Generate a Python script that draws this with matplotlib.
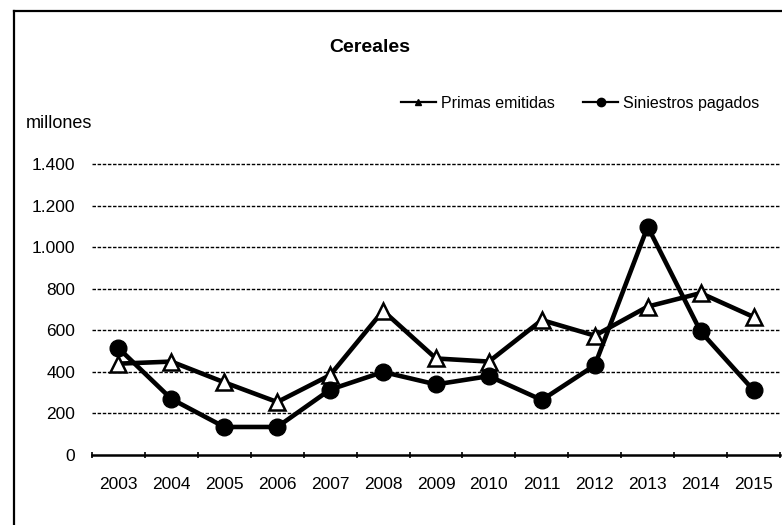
import matplotlib
matplotlib.use('Agg')
import matplotlib.pyplot as plt
from matplotlib.lines import Line2D
import numpy as np

# data
years = ['2003', '2004', '2005', '2006', '2007', '2008', '2009',
         '2010', '2011', '2012', '2013', '2014', '2015']
primas = [440, 450, 350, 255, 385, 695, 465, 450, 650, 575, 715, 780, 665]
siniestros = [515, 270, 135, 135, 315, 400, 340, 380, 265, 432, 1100, 595, 312]
y_ticks = [0, 200, 400, 600, 800, 1000, 1200, 1400]
y_labels = ['0', '200', '400', '600', '800', '1.000', '1.200', '1.400']

plt.rcParams['font.family'] = ['Liberation Sans', 'DejaVu Sans']

W, H = 782, 525
fig = plt.figure(figsize=(W / 100, H / 100), dpi=100)

# axes placed in pixel terms
left, right, bottom, top = 92, 780, 455, 154
ax = fig.add_axes([left / W, 1 - bottom / H, (right - left) / W, (bottom - top) / H])

x = np.arange(len(years))
ax.plot(x, primas, color='black', lw=3.3, marker='^', ms=11,
        mfc='white', mec='black', mew=1.8, zorder=3)
ax.plot(x, siniestros, color='black', lw=3.3, marker='o', ms=12,
        mfc='black', mec='black', zorder=4)

ax.set_xlim(-0.5, len(years) - 0.5)
ax.set_ylim(0, 1450)
ax.set_yticks(y_ticks)
ax.set_yticklabels(y_labels)
ax.set_xticks(x)
ax.set_xticklabels(years)
ax.set_xticks(np.arange(-0.5, len(years), 1), minor=True)

for s in ['top', 'right', 'left']:
    ax.spines[s].set_visible(False)
ax.spines['bottom'].set_linewidth(1.8)

ax.tick_params(axis='y', length=0, labelsize=12.5, pad=12)
ax.tick_params(axis='x', which='major', length=0, labelsize=12.5, pad=16)
ax.tick_params(axis='x', which='minor', length=5, width=1.2, direction='inout')

for v in y_ticks[1:]:
    ax.axhline(v, color='black', lw=1.0, ls=(0, (2.5, 1.2)), zorder=1)

# title, unit label, legend
fig.text(370 / W, 1 - 47 / H, 'Cereales', ha='center', va='center',
         fontsize=14, fontweight='bold')
fig.text(26 / W, 1 - 123 / H, 'millones', ha='left', va='center', fontsize=13)

handles = [Line2D([], [], color='black', lw=1.6, marker='^', ms=5, mfc='black'),
           Line2D([], [], color='black', lw=1.6, marker='o', ms=6, mfc='black')]
fig.legend(handles, ['Primas emitidas', 'Siniestros pagados'],
           loc='center', bbox_to_anchor=(580 / W, 1 - 103 / H), ncol=2,
           frameon=False, fontsize=11.5, handlelength=2.2, handletextpad=0.3,
           columnspacing=1.8)

# outer frame (left and top edge of the scan)
fig.add_artist(Line2D([14 / W, 14 / W], [0, 1 - 11 / H], color='black', lw=1.6,
                      transform=fig.transFigure))
fig.add_artist(Line2D([14 / W, 1], [1 - 11 / H, 1 - 11 / H], color='black', lw=1.6,
                      transform=fig.transFigure))

fig.savefig('out.png', dpi=100)
